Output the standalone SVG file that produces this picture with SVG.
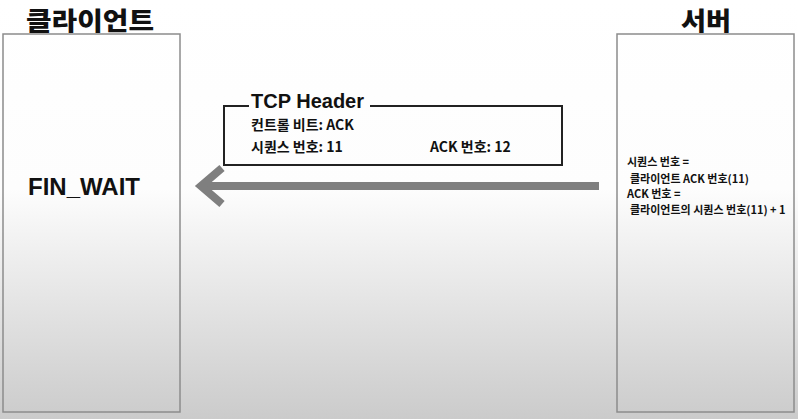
<svg xmlns="http://www.w3.org/2000/svg" width="798" height="419" viewBox="0 0 798 419">
<defs>
<linearGradient id="bg" x1="0" y1="0" x2="0" y2="1">
<stop offset="0" stop-color="#ffffff"/>
<stop offset="0.45" stop-color="#fdfdfd"/>
<stop offset="1" stop-color="#cbcbcb"/>
</linearGradient>
<style>
.box{fill:none;stroke:#8c8c8c;stroke-width:1.5}
.title{font-family:"Noto Sans CJK KR","Noto Sans",sans-serif;font-weight:900;font-size:25px;fill:#111}
.hd{font-family:"Noto Sans CJK KR","Liberation Sans",sans-serif;font-weight:700;font-size:14px;fill:#111}
.sm{font-family:"Noto Sans CJK KR","Liberation Sans",sans-serif;font-weight:700;font-size:11px;fill:#111}
</style>
</defs>
<rect width="798" height="419" fill="url(#bg)"/>
<g id="client">
<text class="title" x="26" y="30" textLength="128" lengthAdjust="spacingAndGlyphs">클라이언트</text>
<rect class="box" x="3" y="34" width="177" height="378"/>
<text x="28" y="195" font-family="Liberation Sans, Arial, sans-serif" font-weight="700" font-size="24" fill="#111">FIN_WAIT</text>
</g>
<g id="server">
<text class="title" x="681" y="30" textLength="50" lengthAdjust="spacingAndGlyphs">서버</text>
<rect class="box" x="617" y="34" width="177" height="378"/>
<text class="sm" x="627" y="166">시퀀스 번호 =</text>
<text class="sm" x="630" y="183">클라이언트 ACK 번호(11)</text>
<text class="sm" x="627" y="198">ACK 번호 =</text>
<text class="sm" x="630" y="214">클라이언트의 시퀀스 번호(11) + 1</text>
</g>
<g id="tcp-header">
<path d="M249 106 H224 V165 H562 V106 H370" fill="none" stroke="#222" stroke-width="2"/>
<text x="251" y="108" font-family="Liberation Sans, Arial, sans-serif" font-weight="700" font-size="20" fill="#111">TCP Header</text>
<text class="hd" x="251" y="130">컨트롤 비트: ACK</text>
<text class="hd" x="251" y="152">시퀀스 번호: 11</text>
<text class="hd" x="430" y="152">ACK 번호: 12</text>
</g>
<g id="connectors">
<line x1="599" y1="186" x2="202" y2="186" stroke="#7f7f7f" stroke-width="8"/>
<polyline points="222,168 201,186 222,204" fill="none" stroke="#7f7f7f" stroke-width="8" stroke-linejoin="miter"/>
</g>
</svg>
